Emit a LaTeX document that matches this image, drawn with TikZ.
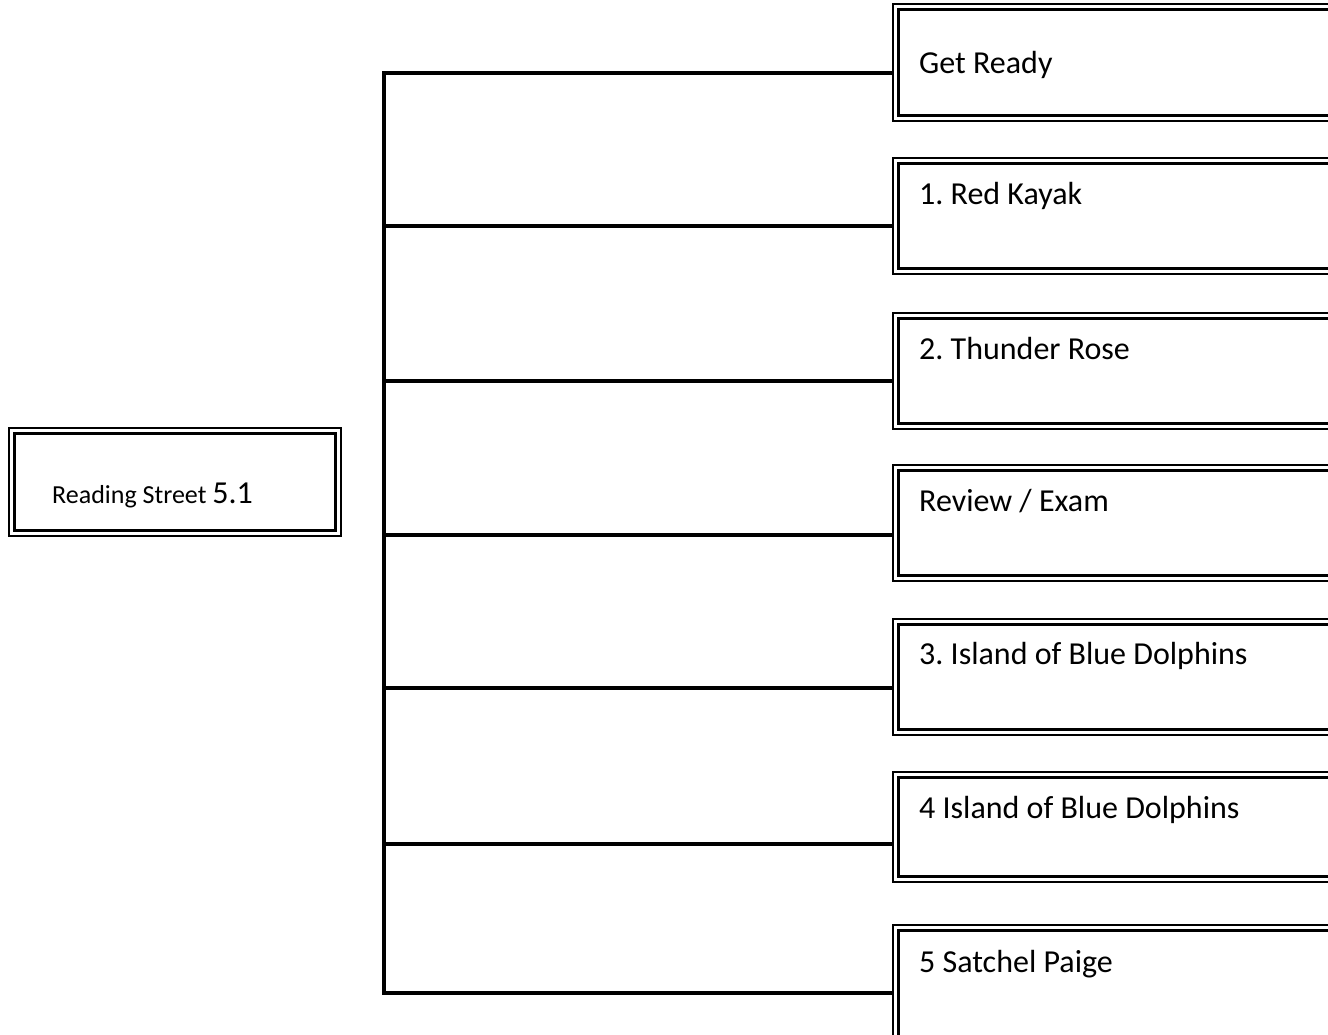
\documentclass[tikz,border=0pt]{standalone}
\usepackage{fontspec}
\setmainfont{Carlito}
\frenchspacing
\begin{document}
\frenchspacing
\begin{tikzpicture}[x=1pt,y=-1pt,
  outerframe/.style={draw=black,line width=1.5pt,inner sep=0pt,anchor=north west,minimum width=460pt},
  innerframe/.style={draw=black,line width=3pt},
  boxtext/.style={anchor=base west,inner sep=0pt,font=\fontsize{32}{38}\selectfont},
  link/.style={draw=black,line width=3.2pt}
]
\useasboundingbox (0,0) rectangle (1328,1034);

% root box
\node[outerframe,minimum width=332pt,minimum height=108pt] (root) at (8,427) {};
\draw[innerframe] ([shift={(6pt,-6pt)}]root.north west) rectangle ([shift={(-6pt,6pt)}]root.south east);
\node[anchor=base west,inner sep=0pt] (roottext) at (52,503)
  {\fontsize{26}{30}\selectfont Reading Street \fontsize{32}{38}\selectfont 5.1};

% right boxes
\foreach \n/\top/\h/\base/\txt in {
  1/3/117/73/{Get Ready},
  2/157/116/204/{1. Red Kayak},
  3/312/116/359/{2. Thunder Rose},
  4/464/116/511/{Review / Exam},
  5/618/116/664/{3. Island of Blue Dolphins},
  6/771/110/818/{4 Island of Blue Dolphins},
  7/924/140/972/{5 Satchel Paige}}{
  \node[outerframe,minimum height=\h pt] (b\n) at (892,\top) {};
  \draw[innerframe] ([shift={(6pt,-6pt)}]b\n.north west) rectangle ([shift={(-6pt,6pt)}]b\n.south east);
  \node[boxtext] (t\n) at (919,\base) {\txt};
}

% spine coordinates
\coordinate (c1) at (384,73);
\coordinate (c2) at (384,226);
\coordinate (c3) at (384,381);
\coordinate (c4) at (384,535);
\coordinate (c5) at (384,688);
\coordinate (c6) at (384,844);
\coordinate (c7) at (384,993);

\draw[link,line cap=rect] (c1) -- (c7);
\foreach \n in {1,...,7}{
  \draw[link] (c\n) -- (c\n -| b\n.west);
}
\end{tikzpicture}
\end{document}
